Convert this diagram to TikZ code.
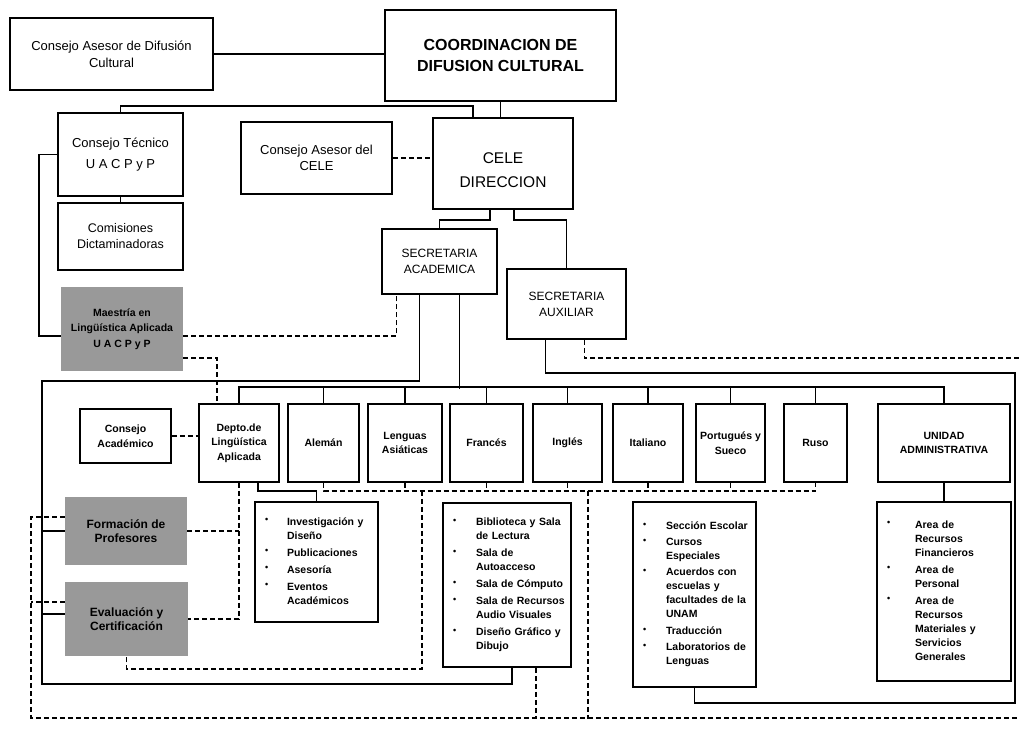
\documentclass[tikz,border=0pt]{standalone}
\usepackage{fontspec}
\setmainfont{Liberation Sans}
\usepackage{tikz}

\newcommand{\bul}{\raisebox{2.5pt}{\fontsize{9}{9}\selectfont\textbullet}}

\begin{document}
\begin{tikzpicture}[x=1pt,y=-1pt,
    box/.style={draw, line width=1.8pt, align=center, inner sep=1pt},
    stipple/.style={fill=black!40, align=center, inner sep=1pt},
    lang/.style={box, minimum height=78, font=\fontsize{10.5}{14.5}\selectfont\bfseries},
    lst/.style={draw, line width=1.8pt, align=left, inner xsep=10pt, inner ysep=1pt,
                font=\fontsize{10.5}{14}\selectfont\bfseries},
    wire/.style={line width=1.6pt},
    dwire/.style={line width=1.5pt, dash pattern=on 5pt off 3pt}]
\useasboundingbox (0,0) rectangle (1019,728);

% upper levels
\node[box, minimum width=203, minimum height=72, font=\fontsize{13}{17}\selectfont]
  (asesordc) at (111.5,54) {Consejo Asesor de Difusión\\Cultural};
\node[box, minimum width=231, minimum height=91, font=\fontsize{16}{21}\selectfont\bfseries]
  (coord) at (500.5,55.5) {COORDINACION DE\\DIFUSION CULTURAL};
\node[box, minimum width=125, minimum height=83, font=\fontsize{13}{21}\selectfont]
  (tecnico) at (120.5,154.5) {Consejo Técnico\\U A C P y P};
\node[box, minimum width=151, minimum height=72, font=\fontsize{13}{16}\selectfont]
  (asesorcele) at (316.5,158) {Consejo Asesor del\\CELE};
\node[box, minimum width=140, minimum height=91, font=\fontsize{15.5}{24}\selectfont]
  (cele) at (503,163.5) {\rule{0pt}{24pt}CELE\\DIRECCION};
\node[box, minimum width=125, minimum height=67, font=\fontsize{12.5}{16}\selectfont]
  (comisiones) at (120.5,236.5) {Comisiones\\Dictaminadoras};
\node[stipple, minimum width=122, minimum height=84, font=\fontsize{10.5}{15.5}\selectfont\bfseries]
  (maestria) at (122,329) {Maestría en\\Lingüística Aplicada\\U A C P y P};
\node[box, minimum width=115, minimum height=65, font=\fontsize{12}{16}\selectfont]
  (secacad) at (439.5,261.5) {SECRETARIA\\ACADEMICA};
\node[box, minimum width=119, minimum height=70, font=\fontsize{12}{16}\selectfont]
  (secaux) at (566.5,304) {SECRETARIA\\AUXILIAR};

% departments
\node[box, minimum width=91, minimum height=54, font=\fontsize{10.5}{14.5}\selectfont\bfseries]
  (consacad) at (125.5,436) {Consejo\\Académico};
\node[lang, minimum width=80] (depto) at (239,443) {Depto.de\\Lingüística\\Aplicada};
\node[lang, minimum width=71] (aleman) at (323.5,443) {Alemán};
\node[lang, minimum width=74] (asiaticas) at (405,443) {Lenguas\\Asiáticas};
\node[lang, minimum width=73] (frances) at (486.5,443) {Francés};
\node[lang, minimum width=69] (ingles) at (567.5,443) {Inglés};
\node[lang, minimum width=70] (italiano) at (648,443) {Italiano};
\node[lang, minimum width=69] (portugues) at (730.5,443) {Portugués y\\Sueco};
\node[lang, minimum width=63] (ruso) at (815.5,443) {Ruso};
\node[lang, minimum width=132] (unidad) at (944,443) {UNIDAD\\ADMINISTRATIVA};

\node[stipple, minimum width=122, minimum height=68, font=\fontsize{12}{14}\selectfont\bfseries]
  (formacion) at (126,531) {Formación de\\Profesores};
\node[stipple, minimum width=123, minimum height=74, font=\fontsize{12}{14}\selectfont\bfseries]
  (evaluacion) at (126.5,619) {Evaluación y\\Certificación};

% lists
\node[lst, text width=103, minimum height=120] (investig) at (316.5,562) {%
  \begin{tabular}{@{}p{22pt}@{}l@{}}
  \bul & Investigación y\\ & Diseño\\[3pt]
  \bul & Publicaciones\\[3pt]
  \bul & Asesoría\\[3pt]
  \bul & Eventos\\ & Académicos
  \end{tabular}};
\node[lst, text width=108, minimum height=164] (biblio) at (507,585) {%
  \begin{tabular}{@{}p{23pt}@{}l@{}}
  \bul & Biblioteca y Sala\\ & de Lectura\\[3pt]
  \bul & Sala de\\ & Autoacceso\\[3pt]
  \bul & Sala de Cómputo\\[3pt]
  \bul & Sala de Recursos\\ & Audio Visuales\\[3pt]
  \bul & Diseño Gráfico y\\ & Dibujo
  \end{tabular}};
\node[lst, text width=103, minimum height=185] (escolar) at (694.5,594.5) {%
  \begin{tabular}{@{}p{23pt}@{}l@{}}
  \bul & Sección Escolar\\[2pt]
  \bul & Cursos\\ & Especiales\\[2pt]
  \bul & Acuerdos con\\ & escuelas y\\ & facultades de la\\ & UNAM\\[3pt]
  \bul & Traducción\\[2pt]
  \bul & Laboratorios de\\ & Lenguas
  \end{tabular}};
\node[lst, text width=114, minimum height=179] (areas) at (944,591.5) {%
  \begin{tabular}{@{}p{28pt}@{}l@{}}
  \bul & Area de\\ & Recursos\\ & Financieros\\[3pt]
  \bul & Area de\\ & Personal\\[3pt]
  \bul & Area de\\ & Recursos\\ & Materiales y\\ & Servicios\\ & Generales
  \end{tabular}};

% connectors, top
\draw[wire] (asesordc.east) -- (asesordc.east -| coord.west);
\draw[wire] (coord.south) -- (coord.south |- cele.north);
\draw[wire] ([xshift=-30pt]cele.north) -- ++(0,-11) -| (tecnico.north);
\draw[dwire] (asesorcele.east) -- (asesorcele.east -| cele.west);
\draw[wire] (tecnico) -- (comisiones);
\draw[wire] (tecnico.west) -- ++(-18,0) |- ([yshift=-7pt]maestria.west);
\draw[dwire] ([yshift=-7pt]maestria.east) -| ([xshift=-43pt]secacad.south);
\draw[dwire] ([yshift=-29pt]maestria.east) -| ([xshift=-22pt]depto.north);
\draw[wire] ([xshift=-13pt]cele.south) -- ++(0,10) -| (secacad.north);
\draw[wire] ([xshift=11pt]cele.south) -- ++(0,10) -| (secaux.north);

% bus to the departments
\draw[wire] ([xshift=20pt]secacad.south) -- ++(0,94);
\draw[wire] (depto.north) -- ++(0,-16) -| (unidad.north);
\foreach \n in {aleman,asiaticas,frances,ingles,italiano,portugues,ruso}
  \draw[wire] (\n.north) -- ++(0,-16);

% left rail
\coordinate (railtop) at (42,381);
\draw[wire] ([xshift=-20pt]secacad.south) |- (railtop) -- ++(0,303) -| ([xshift=5pt]biblio.south);
\draw[wire] (formacion.west) -- ++(-23,0);
\draw[wire] ([yshift=5pt]evaluacion.west) -- ++(-23,0);
\draw[dwire] (consacad.east) -- (consacad.east -| depto.west);

\draw[wire] ([xshift=19pt]depto.south) -- ++(0,8) -| (investig.north);
\draw[dwire] (depto.south) |- (evaluacion.east);
\draw[dwire] (formacion.east) -- (formacion.east -| depto.south);

% dashed bus under the languages
\draw[dwire] (aleman.south) -- ++(0,8) -| (ruso.south);
\foreach \n in {asiaticas,frances,ingles,italiano,portugues}
  \draw[dwire] (\n.south) -- ++(0,8);
\draw[dwire] ([xshift=17pt]asiaticas.south) ++(0,8) -- ++(0,178) -| (evaluacion.south);
\draw[dwire] ([xshift=20.5pt]ingles.south) ++(0,8) -- ++(0,228);

% outer dashed loop
\coordinate (dashend) at (1019,718);
\draw[dwire] ([yshift=14pt]formacion.west) -- ++(-34,0) |- (dashend);
\draw[dwire] ([yshift=17pt]evaluacion.west) -- ++(-34,0);
\draw[dwire] ([xshift=29pt]biblio.south) -- ++(0,51);

% secretaria auxiliar
\coordinate (railright) at (1015,373);
\draw[wire] ([xshift=-21pt]secaux.south) |- (railright) -- ++(0,330) -| (escolar.south);
\coordinate (dashtop) at (1019,358);
\draw[dwire] ([xshift=18pt]secaux.south) |- (dashtop);
\draw[wire] (unidad) -- (areas);
\end{tikzpicture}
\end{document}
